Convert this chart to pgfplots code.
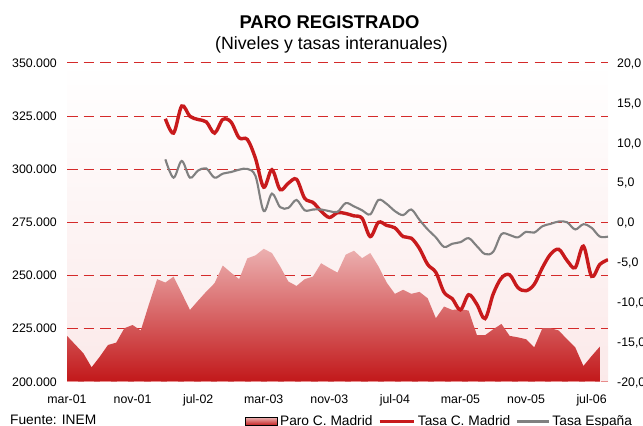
\documentclass[border=0pt]{standalone}
\usepackage{fontspec}
\setmainfont{Liberation Sans}
\usepackage{pgfplots}
\pgfplotsset{compat=1.18}
\definecolor{madrid}{RGB}{200,26,28}
\definecolor{gridred}{RGB}{212,42,42}
\definecolor{esp}{RGB}{128,128,128}
\definecolor{areatop}{RGB}{236,176,176}
\definecolor{areamid}{RGB}{221,132,132}
\definecolor{areabot}{RGB}{194,24,26}
\definecolor{bgbot}{RGB}{251,233,233}
\definecolor{basegrid}{RGB}{232,140,140}
\begin{document}
\begin{tikzpicture}
\pgfplotsset{
  common/.style={
    scale only axis, width=541bp, height=318.5bp,
    at={(0bp,0bp)}, anchor=south west,
    xmin=0, xmax=66,
    axis line style={draw=none},
    major tick style={draw=none},
    minor tick style={draw=none},
    scaled y ticks=false,
    tick label style={font=\fontsize{12.4}{14}\selectfont, inner sep=0pt, text height=9bp, text depth=0bp},
  }
}
\begin{axis}[common,
  axis background/.style={shade, top color=white, bottom color=bgbot},
  ymin=200000, ymax=350000,
  ytick={200000,225000,250000,275000,300000,325000,350000},
  yticklabels={200.000,225.000,250.000,275.000,300.000,325.000,350.000},
  ymajorgrids,
  grid style={gridred, line width=1bp, dash pattern=on 10.5bp off 6.2bp},
  xtick={0,8,16,24,32,40,48,56,64},
  xticklabels={mar-01,nov-01,jul-02,mar-03,nov-03,jul-04,mar-05,nov-05,jul-06},
  yticklabel style={xshift=-10bp},
  xticklabel style={anchor=north, yshift=-12.8bp},
]
\addplot[draw=none, top color=areatop, middle color=areamid, bottom color=areabot] coordinates {
(0,200000) (0,221500) (1,217400) (2,213300) (3,206700) (4,211700) (5,217200)
(6,218300) (7,225100) (8,226600) (9,224000) (10,236400) (11,248200)
(12,246600) (13,249400) (14,241600) (15,233700) (16,238100) (17,242400)
(18,246300) (19,254600) (20,251300) (21,248200) (22,258000) (23,259400)
(24,262500) (25,260500) (26,254200) (27,247100) (28,245000) (29,248200)
(30,249400) (31,255700) (32,253400) (33,251300) (34,259700) (35,261600)
(36,258100) (37,260500) (38,254200) (39,246600) (40,241300) (41,243200)
(42,241300) (43,242200) (44,239200) (45,229800) (46,235300) (47,233700)
(48,234100) (49,233400) (50,221900) (51,221800) (52,224600) (53,227100)
(54,221500) (55,220800) (56,219900) (57,216100) (58,225100) (59,225100)
(60,224000) (61,219900) (62,216100) (63,207300) (64,212000) (65,216400)
(65,200000)} -- cycle;
\draw[basegrid, line width=1.3bp, dash pattern=on 10.5bp off 6.2bp] (rel axis cs:0,0) -- (rel axis cs:1,0);
\end{axis}
\begin{axis}[common,
  ymin=-20, ymax=20,
  ytick={-20,-15,-10,-5,0,5,10,15,20},
  yticklabels={{-20,0},{-15,0},{-10,0},{-5,0},{0,0},{5,0},{10,0},{15,0},{20,0}},
  yticklabel pos=right,
  yticklabel style={anchor=west, xshift=9bp},
  xtick=\empty,
  legend columns=3,
  legend cell align=left,
  legend style={at={(0.329,-0.1256)}, anchor=west, draw=none, fill=none,
    font=\fontsize{13.8}{16}\selectfont, inner sep=0pt,
    nodes={inner xsep=2.5bp, inner ysep=0pt, text height=10bp, text depth=3bp},
    /tikz/every even column/.append style={column sep=3bp}},
]
\addlegendimage{legend image code/.code={\shade[top color=areatop, bottom color=areabot] (0bp,-4bp) rectangle (32bp,4bp);}}
\addlegendentry{Paro C. Madrid}
\addplot[madrid, line width=3.4bp, smooth, tension=0.55,
  legend image code/.code={\draw[madrid, line width=3.4bp] (0bp,0bp) -- (34bp,0bp);}] coordinates {
(12,13.0) (13,11.2) (14,14.6) (15,13.3) (16,12.9) (17,12.6) (18,11.2) (19,12.9)
(20,12.6) (21,10.6) (22,10.4) (23,8.0) (24,4.4) (25,6.6) (26,4.1) (27,4.9)
(28,5.4) (29,3.0) (30,2.5) (31,1.4) (32,0.6) (33,1.2) (34,1.1) (35,0.8)
(36,0.5) (37,-1.8) (38,0.0) (39,-0.4) (40,-0.7) (41,-1.8) (42,-2.0) (43,-3.3)
(44,-5.3) (45,-6.3) (46,-8.8) (47,-9.6) (48,-11.0) (49,-9.1) (50,-10.3) (51,-12.1)
(52,-9.0) (53,-7.0) (54,-6.6) (55,-8.2) (56,-8.6) (57,-7.8) (58,-5.7) (59,-4.0)
(60,-3.4) (61,-4.8) (62,-5.7) (63,-3.0) (64,-6.8) (65,-5.3) (66,-4.7)};
\addlegendentry{Tasa C. Madrid}
\addplot[esp, line width=2.1bp, smooth, tension=0.55,
  legend image code/.code={\draw[esp, line width=2.1bp] (0bp,0bp) -- (32bp,0bp);}] coordinates {
(12,7.9) (13,5.6) (14,7.7) (15,5.6) (16,6.5) (17,6.75) (18,5.6) (19,6.1)
(20,6.3) (21,6.6) (22,6.7) (23,5.8) (24,1.4) (25,3.6) (26,1.9) (27,1.8)
(28,2.8) (29,1.5) (30,1.6) (31,1.6) (32,1.4) (33,1.3) (34,2.4) (35,2.0)
(36,1.5) (37,1.0) (38,2.8) (39,2.3) (40,1.4) (41,0.9) (42,1.6) (43,0.3)
(44,-0.9) (45,-1.9) (46,-3.1) (47,-2.7) (48,-2.5) (49,-2.0) (50,-3.0) (51,-4.0)
(52,-3.7) (53,-1.5) (54,-1.6) (55,-1.9) (56,-1.2) (57,-1.3) (58,-0.5) (59,-0.2)
(60,0.1) (61,0.0) (62,-0.9) (63,-0.25) (64,-0.7) (65,-1.8) (66,-1.8)};
\addlegendentry{Tasa España}
\end{axis}
\node[anchor=base, font=\bfseries\fontsize{18.5}{22}\selectfont] at (262.5bp,353.2bp) {PARO REGISTRADO};
\node[anchor=base, font=\fontsize{17.8}{21}\selectfont] at (264.5bp,331.9bp) {(Niveles y tasas interanuales)};
\node[anchor=base west, inner sep=0pt, font=\fontsize{13.8}{16}\selectfont] at (-57bp,-42.5bp) {Fuente: INEM};
\pgfresetboundingbox
\useasboundingbox (-67bp,-44.5bp) rectangle (576bp,381.5bp);
\end{tikzpicture}
\end{document}
